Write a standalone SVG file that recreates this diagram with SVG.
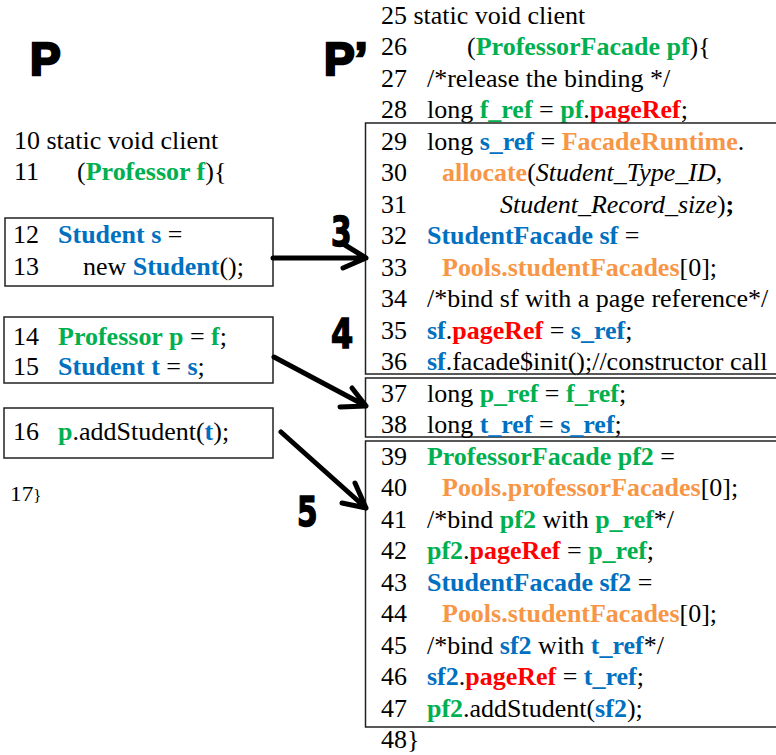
<svg xmlns="http://www.w3.org/2000/svg" width="776" height="755" viewBox="0 0 776 755">
  <style>
    .t { font-family: "Liberation Serif", "Times New Roman", serif; font-size: 24.5px; fill: #000; }
    .b { font-weight: bold; }
    .i { font-style: italic; }
    .g { fill: #00B050; font-weight: bold; }
    .u { fill: #0070C0; font-weight: bold; }
    .o { fill: #F79646; font-weight: bold; }
    .r { fill: #FF0000; font-weight: bold; }
    .box { fill: none; stroke: #222; stroke-width: 1.5; }
    .arrow { fill: none; stroke: #000; stroke-width: 5; stroke-linecap: round; stroke-linejoin: round; }
    .title { font-family: "Liberation Sans", Arial, sans-serif; font-weight: bold; font-size: 46px; fill: #000; stroke: #000; stroke-width: 2.5; }
    .step { font-family: "DejaVu Sans", "Liberation Sans", sans-serif; font-weight: bold; font-size: 41px; fill: #000; stroke: #000; stroke-width: 1.5; }
  </style>

  <!-- program titles -->
  <text class="title" x="30" y="75">P</text>
  <text class="title" x="324" y="75">P’</text>

  <!-- original client method P (text groups are widened slightly) -->
  <g id="P-header" transform="scale(1.061 1)">
    <text class="t" x="13.2" y="149">10 static void client</text>
    <text class="t" x="13.2" y="180">11</text>
    <text class="t" x="72.6" y="180">(<tspan class="g">Professor f</tspan>){</text>
  </g>

  <g id="P-stmt-new-student">
    <rect class="box" x="5" y="218" width="268" height="68"/>
    <g transform="scale(1.061 1)">
      <text class="t" x="12.3" y="243">12</text>
      <text class="t" x="54.7" y="243"><tspan class="u">Student s</tspan> =</text>
      <text class="t" x="12.3" y="275">13</text>
      <text class="t" x="78.2" y="275">new <tspan class="u">Student</tspan>();</text>
    </g>
  </g>

  <g id="P-stmt-assign">
    <rect class="box" x="4" y="317" width="269" height="66"/>
    <g transform="scale(1.061 1)">
      <text class="t" x="12.3" y="345">14</text>
      <text class="t" x="54.7" y="345"><tspan class="g">Professor p</tspan> = <tspan class="g">f</tspan>;</text>
      <text class="t" x="12.3" y="375">15</text>
      <text class="t" x="54.7" y="375"><tspan class="u">Student t</tspan> = <tspan class="u">s</tspan>;</text>
    </g>
  </g>

  <g id="P-stmt-call">
    <rect class="box" x="4" y="408" width="269" height="50"/>
    <g transform="scale(1.061 1)">
      <text class="t" x="12.3" y="440">16</text>
      <text class="t" x="54.7" y="440"><tspan class="g">p</tspan>.addStudent(<tspan class="u">t</tspan>);</text>
    </g>
  </g>

  <g id="P-footer" transform="scale(1.061 1)">
    <text class="t" x="9.4" y="501" style="font-size:22px">17<tspan style="font-size:16px">}</tspan></text>
  </g>

  <!-- transformed client method P' -->
  <g id="Pprime-header" transform="scale(1.061 1)">
    <text class="t" x="359.1" y="24">25 static void client</text>
    <text class="t" x="359.1" y="55.5">26</text>
    <text class="t" x="440.2" y="55.5">(<tspan class="g">ProfessorFacade pf</tspan>){</text>
    <text class="t" x="359.1" y="87">27</text>
    <text class="t" x="402.4" y="87">/*release the binding */</text>
    <text class="t" x="359.1" y="118.5">28</text>
    <text class="t" x="402.4" y="118.5">long <tspan class="g">f_ref</tspan> = <tspan class="g">pf</tspan>.<tspan class="r">pageRef</tspan>;</text>
  </g>

  <g id="Pprime-block-new-student">
    <rect class="box" x="365.5" y="123" width="420" height="251"/>
    <g transform="scale(1.061 1)">
      <text class="t" x="359.1" y="150">29</text>
      <text class="t" x="402.4" y="150">long <tspan class="u">s_ref</tspan> = <tspan class="o">FacadeRuntime</tspan>.</text>
      <text class="t" x="359.1" y="181.5">30</text>
      <text class="t" x="416.6" y="181.5"><tspan class="o">allocate</tspan>(<tspan class="i">Student_Type_ID</tspan>,</text>
      <text class="t" x="359.1" y="213">31</text>
      <text class="t" x="471.2" y="213"><tspan class="i">Student_Record_size</tspan>)<tspan class="b">;</tspan></text>
      <text class="t" x="359.1" y="244.5">32</text>
      <text class="t" x="402.4" y="244.5"><tspan class="u">StudentFacade sf</tspan> =</text>
      <text class="t" x="359.1" y="276">33</text>
      <text class="t" x="416.6" y="276"><tspan class="o">Pools.studentFacades</tspan>[0];</text>
      <text class="t" x="359.1" y="307.5">34</text>
      <text class="t" x="402.4" y="307.5">/*bind sf with a page reference*/</text>
      <text class="t" x="359.1" y="339">35</text>
      <text class="t" x="402.4" y="339"><tspan class="u">sf</tspan>.<tspan class="r">pageRef</tspan> = <tspan class="u">s_ref</tspan>;</text>
      <text class="t" x="359.1" y="370.5">36</text>
      <text class="t" x="402.4" y="370.5"><tspan class="u">sf</tspan>.facade$init();//constructor call</text>
    </g>
  </g>

  <g id="Pprime-block-assign">
    <rect class="box" x="365.5" y="378" width="420" height="59"/>
    <g transform="scale(1.061 1)">
      <text class="t" x="359.1" y="402">37</text>
      <text class="t" x="402.4" y="402">long <tspan class="g">p_ref</tspan> = <tspan class="g">f_ref</tspan>;</text>
      <text class="t" x="359.1" y="433.5">38</text>
      <text class="t" x="402.4" y="433.5">long <tspan class="u">t_ref</tspan> = <tspan class="u">s_ref</tspan>;</text>
    </g>
  </g>

  <g id="Pprime-block-call">
    <rect class="box" x="365.5" y="441" width="420" height="286"/>
    <g transform="scale(1.061 1)">
      <text class="t" x="359.1" y="465">39</text>
      <text class="t" x="402.4" y="465"><tspan class="g">ProfessorFacade pf2</tspan> =</text>
      <text class="t" x="359.1" y="496.5">40</text>
      <text class="t" x="416.6" y="496.5"><tspan class="o">Pools.professorFacades</tspan>[0];</text>
      <text class="t" x="359.1" y="528">41</text>
      <text class="t" x="402.4" y="528">/*bind <tspan class="g">pf2</tspan> with <tspan class="g">p_ref</tspan>*/</text>
      <text class="t" x="359.1" y="559.5">42</text>
      <text class="t" x="402.4" y="559.5"><tspan class="g">pf2</tspan>.<tspan class="r">pageRef</tspan> = <tspan class="g">p_ref</tspan>;</text>
      <text class="t" x="359.1" y="591">43</text>
      <text class="t" x="402.4" y="591"><tspan class="u">StudentFacade sf2</tspan> =</text>
      <text class="t" x="359.1" y="622.5">44</text>
      <text class="t" x="416.6" y="622.5"><tspan class="o">Pools.studentFacades</tspan>[0];</text>
      <text class="t" x="359.1" y="654">45</text>
      <text class="t" x="402.4" y="654">/*bind <tspan class="u">sf2</tspan> with <tspan class="u">t_ref</tspan>*/</text>
      <text class="t" x="359.1" y="685.5">46</text>
      <text class="t" x="402.4" y="685.5"><tspan class="u">sf2</tspan>.<tspan class="r">pageRef</tspan> = <tspan class="u">t_ref</tspan>;</text>
      <text class="t" x="359.1" y="717">47</text>
      <text class="t" x="402.4" y="717"><tspan class="g">pf2</tspan>.addStudent(<tspan class="u">sf2</tspan>);</text>
    </g>
  </g>

  <g id="Pprime-footer" transform="scale(1.061 1)">
    <text class="t" x="359.1" y="748.5">48}</text>
  </g>

  <!-- translation steps: statement in P mapped to code in P' -->
  <g id="connectors">
    <g id="step-3">
      <path class="arrow" d="M273,258 L366,258 M345,245 L366,258 L343,268"/>
      <text class="step" transform="translate(331,246) scale(0.72 1)">3</text>
    </g>
    <g id="step-4">
      <path class="arrow" d="M274,357 L366,406 M352,388 L366,406 L340,407"/>
      <text class="step" transform="translate(331,348) scale(0.78 1)">4</text>
    </g>
    <g id="step-5">
      <path class="arrow" d="M281,432 L366,508 M355,483 L366,508 L342,503"/>
      <text class="step" transform="translate(297,526) scale(0.72 1)">5</text>
    </g>
  </g>
</svg>
